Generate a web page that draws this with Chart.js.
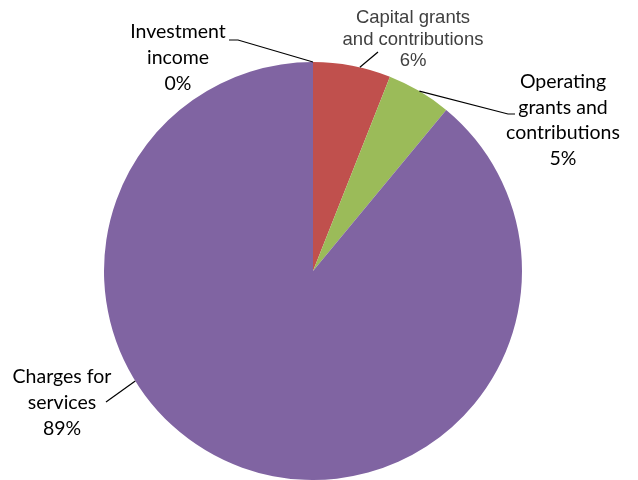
<!DOCTYPE html>
<html>
<head>
<meta charset="utf-8">
<script src="https://cdn.jsdelivr.net/npm/chart.js@4.4.1/dist/chart.umd.min.js"></script>
<style>
  html, body { margin: 0; padding: 0; background: #fff; }
  #wrap { width: 638px; height: 480px; position: relative; }
</style>
</head>
<body>
<div id="wrap"><canvas id="myChart" width="638" height="480"></canvas></div>
<script>
// revenue sources (percent of total)
const sources = ['Investment income', 'Capital grants and contributions', 'Operating grants and contributions', 'Charges for services'];
const shares = [0, 6, 5, 89];
const sliceColors = ['#4F81BD', '#C0504D', '#9BBB59', '#8064A2'];

// how each label is broken into lines
const labelLines = [
    ['Investment', 'income'],
    ['Capital grants', 'and contributions'],
    ['Operating', 'grants and', 'contributions'],
    ['Charges for', 'services']
];

// label placement: text centre, first line y, line height, font, leader path, where on the slice the leader lands
const labelLayout = [
    { x: 178, y: 32, lh: 26, font: '19.5px Lato', color: '#000', path: [[238, 40], [229, 40]], at: 0.5 },
    { x: 413, y: 18, lh: 21.5, font: '18.5px "Liberation Sans"', color: '#404040', path: [[378, 52]], at: 0.6 },
    { x: 563, y: 82, lh: 25.5, font: '19.5px Lato', color: '#000', path: [[508, 114], [515, 114]], at: 0.5 },
    { x: 62, y: 377, lh: 26, font: '19.5px Lato', color: '#000', path: [[106, 402]], at: 0.62 }
];

const total = shares.reduce((a, b) => a + b, 0);

// draws the callout labels with their leader lines
const calloutPlugin = {
    id: 'callouts',
    afterDraw(chart) {
        const ctx = chart.ctx;
        const arcs = chart.getDatasetMeta(0).data;
        ctx.save();
        arcs.forEach((arc, i) => {
            const p = arc.getProps(['x', 'y', 'startAngle', 'endAngle', 'outerRadius'], true);
            const lay = labelLayout[i];
            const a = p.startAngle + (p.endAngle - p.startAngle) * lay.at;
            const ax = p.x + Math.cos(a) * p.outerRadius;
            const ay = p.y + Math.sin(a) * p.outerRadius;

            ctx.strokeStyle = '#000';
            ctx.lineWidth = 1.2;
            ctx.beginPath();
            ctx.moveTo(ax, ay);
            lay.path.forEach(pt => ctx.lineTo(pt[0], pt[1]));
            ctx.stroke();

            const lines = labelLines[i].concat([Math.round(shares[i] / total * 100) + '%']);
            ctx.font = lay.font;
            ctx.fillStyle = lay.color;
            ctx.textAlign = 'center';
            ctx.textBaseline = 'middle';
            lines.forEach((t, k) => ctx.fillText(t, lay.x, lay.y + k * lay.lh));
        });
        ctx.restore();
    }
};

const config = {
    type: 'pie',
    data: {
        labels: sources,
        datasets: [{
            data: shares,
            backgroundColor: sliceColors,
            borderWidth: 0
        }]
    },
    options: {
        responsive: false,
        animation: false,
        layout: { padding: { top: 62, bottom: 0, left: 0, right: 12 } },
        plugins: {
            legend: { display: false },
            tooltip: { enabled: false }
        }
    },
    plugins: [calloutPlugin]
};

const myChart = new Chart(document.getElementById('myChart'), config);
</script>
</body>
</html>
